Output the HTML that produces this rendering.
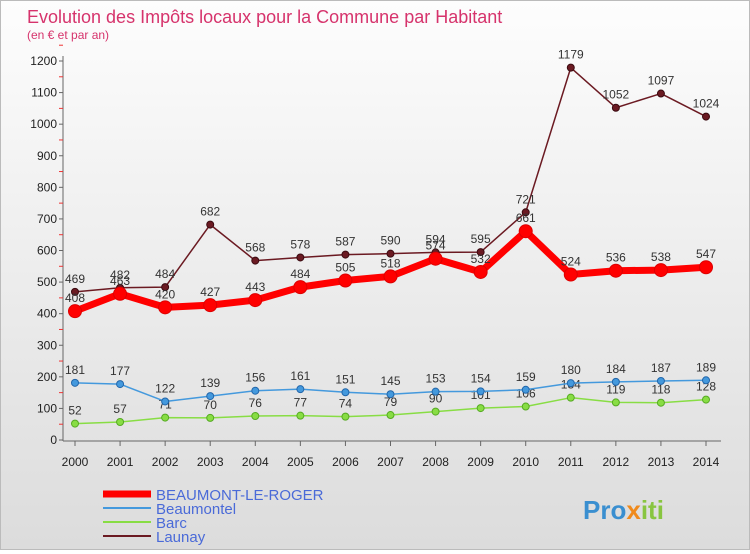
<!DOCTYPE html>
<html><head><meta charset="utf-8"><style>
body{margin:0;width:750px;height:550px;overflow:hidden;font-family:"Liberation Sans",sans-serif}
#wrap{position:relative;width:748px;height:548px;border:1px solid #bbb;background:linear-gradient(#fdfdfd,#dcdcdc)}
</style></head><body>
<div id="wrap">
<svg id="chart" width="748" height="548"></svg>
</div>
<script>
const years=[2000,2001,2002,2003,2004,2005,2006,2007,2008,2009,2010,2011,2012,2013,2014];
const yTicks=[0,100,200,300,400,500,600,700,800,900,1000,1100,1200];
const beaumontLeRoger=[408,463,420,427,443,484,505,518,574,532,661,524,536,538,547];
const launay=[469,482,484,682,568,578,587,590,594,595,721,1179,1052,1097,1024];
const beaumontel=[181,177,122,139,156,161,151,145,153,154,159,180,184,187,189];
const barc=[52,57,71,70,76,77,74,79,90,101,106,134,119,118,128];
const NS="http://www.w3.org/2000/svg";
const svg=document.getElementById('chart');
function X(i){return 74+i*(705-74)/(years.length-1);}
function Y(v){return 439-v*(439-60)/1200;}
function el(t,a,p){const e=document.createElementNS(NS,t);for(const k in a)e.setAttribute(k,a[k]);(p||svg).appendChild(e);return e;}
function txt(x,y,s,a){const e=el('text',Object.assign({x:x,y:y},a));e.textContent=s;return e;}
let t=txt(26,22,'Evolution des Impôts locaux pour la Commune par Habitant',{fill:'#d6336c','font-size':18});

t=txt(26,38,'(en € et par an)',{fill:'#d6336c','font-size':12});

// axes
let ax=el('line',{x1:62,y1:55,x2:62,y2:440,stroke:'#666'});

ax=el('line',{x1:62,y1:440,x2:720,y2:440,stroke:'#666'});

yTicks.forEach(v=>{
 const l=el('line',{x1:58,y1:Y(v),x2:62,y2:Y(v),stroke:'#666'});
 
 const m=el('line',{x1:58,y1:Y(v+50),x2:62,y2:Y(v+50),stroke:'#e33'});
 
 const s=txt(56,Y(v)+4,String(v),{'font-size':12,fill:'#222','text-anchor':'end'});
 
});
years.forEach((yr,i)=>{
 const l=el('line',{x1:X(i),y1:440,x2:X(i),y2:445,stroke:'#666'});
 
 const s=txt(X(i),465,String(yr),{'font-size':12,fill:'#222','text-anchor':'middle'});
 
});
function series(vals,color,w,r,name,dark){
 const g=el('g',{});
 
 el('polyline',{points:vals.map((v,i)=>X(i)+','+Y(v)).join(' '),fill:'none',stroke:color,'stroke-width':w,'stroke-linejoin':'round'},g);
 vals.forEach((v,i)=>{
  const c=el('circle',{cx:X(i),cy:Y(v),r:r,fill:color,stroke:dark,'stroke-width':1},g);
  
  const s=txt(X(i),Y(v)-9,String(v),{'font-size':12,fill:'#333','text-anchor':'middle'},g);
  
 });
}
series(barc,'#88dd44',1.5,3.5,'barc','#55aa22');
series(beaumontel,'#4499dd',1.5,3.5,'beaumontel','#2266aa');
series(launay,'#6b1a22',1.5,3.5,'launay','#3a0a10');
series(beaumontLeRoger,'#ff0000',7,6.5,'beaumont-le-roger','#dd0000');
// legend
const leg=[['BEAUMONT-LE-ROGER','#ff0000',7],['Beaumontel','#4499dd',2],['Barc','#88dd44',2],['Launay','#6b1a22',2]];
leg.forEach((d,i)=>{
 const g=el('g',{});
 
 const y=493+i*14;
 el('line',{x1:102,y1:y,x2:150,y2:y,stroke:d[1],'stroke-width':d[2]},g);
 txt(155,y+6,d[0],{'font-size':15,fill:'#4a6ad8'},g);
});
const lg=txt(582,518,'Pro',{'font-size':26,'font-weight':'bold',fill:'#3a8fd0'});

const ts=el('tspan',{fill:'#f08a1c'},lg);ts.textContent='x';
const ts2=el('tspan',{fill:'#88c540'},lg);ts2.textContent='iti';
</script>
</body></html>
